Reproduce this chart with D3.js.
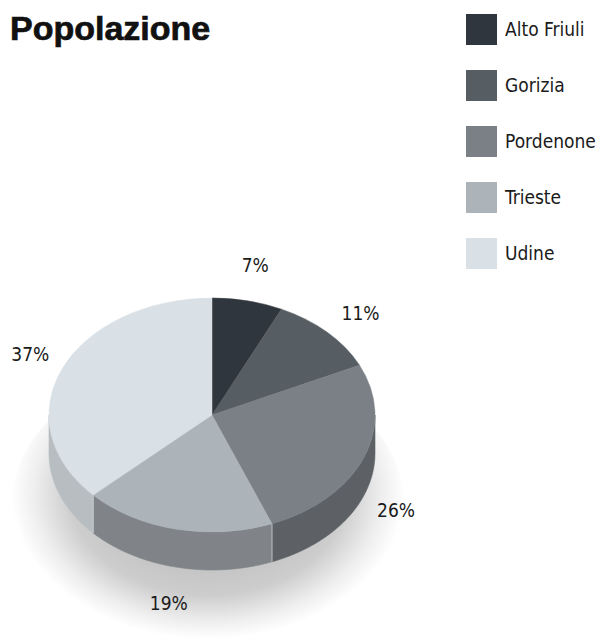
<!DOCTYPE html>
<html>
<head>
<meta charset="utf-8">
<script src="https://cdn.jsdelivr.net/npm/d3@7.9.0/dist/d3.min.js"></script>
<style>
  body { margin: 0; background: #fff; }
  svg { display: block; }
  .title { font-family: "Liberation Sans", Arial, sans-serif; font-weight: bold; font-size: 34px; fill: #111; stroke: #111; stroke-width: 0.7; }
  .lbl { font-family: "DejaVu Sans Condensed", "Liberation Sans Narrow", sans-serif; font-size: 19px; fill: #1a1a1a; }
</style>
</head>
<body>
<svg id="chart" width="601" height="639"></svg>
<script>
const regions = ['Alto Friuli', 'Gorizia', 'Pordenone', 'Trieste', 'Udine'];
const shares = [7, 11, 26, 19, 37];
const topColors = ['#30363d', '#575e63', '#7b8086', '#adb4b9', '#d9e1e6'];
const sideColors = ['#23282d', '#43484c', '#5d6165', '#808488', '#b7bdc1'];

const width = 601, height = 639;
const cx = 212, cy = 415, rx = 163, ry = 117, depth = 38;

const svg = d3.select('#chart');

// title
svg.append('text').attr('class', 'title').attr('x', 10).attr('y', 40).text('Popolazione');

// legend
const legend = svg.append('g').attr('transform', 'translate(466,14)');
regions.forEach((name, i) => {
  const row = legend.append('g').attr('transform', `translate(0,${i * 56})`);
  row.append('rect').attr('width', 31).attr('height', 31).attr('fill', topColors[i]);
  row.append('text').attr('class', 'lbl').attr('x', 39).attr('y', 22).text(name);
});

// shadow
const defs = svg.append('defs');
const grad = defs.append('radialGradient').attr('id', 'shadow')
  .attr('cx', '50%').attr('cy', '45%').attr('r', '50%');
grad.append('stop').attr('offset', '0%').attr('stop-color', '#acacac');
grad.append('stop').attr('offset', '70%').attr('stop-color', '#cdcdcd');
grad.append('stop').attr('offset', '88%').attr('stop-color', '#eeeeee');
grad.append('stop').attr('offset', '100%').attr('stop-color', '#ffffff');
svg.append('ellipse')
  .attr('cx', cx - 4).attr('cy', cy + 92)
  .attr('rx', rx + 34).attr('ry', ry + 30)
  .attr('fill', 'url(#shadow)');

const pie = d3.pie().sort(null).value(d => d);
const arcs = pie(shares);

const px = a => cx + rx * Math.sin(a);
const py = (a, dz = 0) => cy - ry * Math.cos(a) + dz;

// side walls (front half only)
const line = d3.line();
arcs.forEach((d, i) => {
  const a0 = Math.max(d.startAngle, Math.PI / 2);
  const a1 = Math.min(d.endAngle, Math.PI * 3 / 2);
  if (a1 <= a0) return;
  const steps = d3.range(a0, a1, 0.01).concat([a1]);
  const pts = steps.map(a => [px(a), py(a)])
    .concat(steps.slice().reverse().map(a => [px(a), py(a, depth)]));
  svg.append('path')
    .attr('d', line(pts) + 'Z')
    .attr('fill', sideColors[i])
    .attr('stroke', sideColors[i])
    .attr('stroke-width', 0.6);
  // thin highlight where slices meet on the wall
  if (d.startAngle >= Math.PI / 2) {
    svg.append('line')
      .attr('x1', px(a0)).attr('y1', py(a0))
      .attr('x2', px(a0)).attr('y2', py(a0, depth))
      .attr('stroke', '#c9cdd0').attr('stroke-width', 0.8);
  }
});

// top faces
const arcGen = d3.arc().innerRadius(0).outerRadius(rx);
const faces = svg.append('g').attr('transform', `translate(${cx},${cy}) scale(1,${ry / rx})`);
faces.selectAll('path').data(arcs).join('path')
  .attr('d', arcGen)
  .attr('fill', (d, i) => topColors[i])
  .attr('stroke', (d, i) => topColors[i])
  .attr('stroke-width', 0.5)
  .attr('vector-effect', 'non-scaling-stroke');

// percentage labels, spread so neighbours keep a minimum angular gap
const lrx = 198, lry = 154, minGap = 36 * Math.PI / 180;
let prev = -Infinity;
arcs.forEach((d, i) => {
  let a = (d.startAngle + d.endAngle) / 2;
  if (a - prev < minGap) a = prev + minGap;
  prev = a;
  const x = cx + lrx * Math.sin(a);
  const y = cy - lry * Math.cos(a) + (Math.cos(a) < 0 ? depth : 0);
  svg.append('text').attr('class', 'lbl')
    .attr('x', x).attr('y', y + 7)
    .attr('text-anchor', 'middle')
    .text(d.data + '%');
});
</script>
</body>
</html>
